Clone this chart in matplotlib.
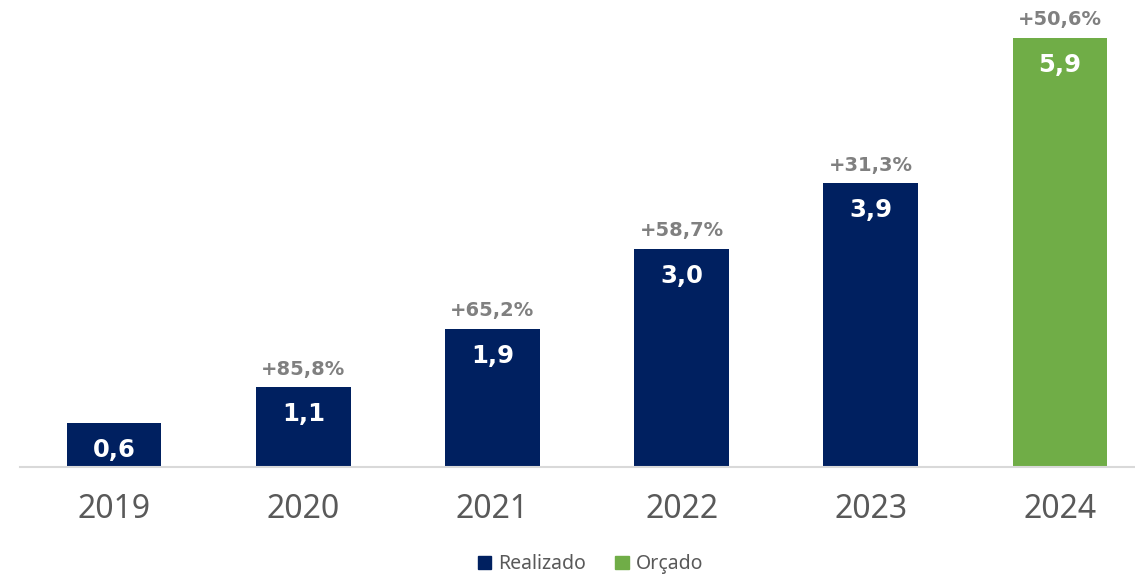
import matplotlib
matplotlib.use('Agg')
from matplotlib import pyplot as plt
from matplotlib.patches import Patch

# dados
anos = ['2019', '2020', '2021', '2022', '2023', '2024']
valores = [0.6, 1.1, 1.9, 3.0, 3.9, 5.9]
crescimento = [None, '+85,8%', '+65,2%', '+58,7%', '+31,3%', '+50,6%']
tipo = ['Realizado', 'Realizado', 'Realizado', 'Realizado', 'Realizado', 'Orçado']

cores = {'Realizado': '#002060', 'Orçado': '#70AD47'}

fig = plt.figure(figsize=(11.35, 5.77), dpi=100)
ax = fig.add_axes([0.0172, 0.1906, 1.0, 0.8094])

x = list(range(len(anos)))
bars = ax.bar(x, valores, width=0.5, color=[cores[t] for t in tipo], zorder=2)

ax.set_xlim(-0.5, 5.5)
ax.set_ylim(0, 6.42)

# rótulos dentro das barras
for xi, v in zip(x, valores):
    ax.annotate(f'{v:.1f}'.replace('.', ','), (xi, v), xytext=(0, -27),
                textcoords='offset pixels', ha='center', va='center',
                color='white', fontsize=17.5, fontweight='bold')

# variação anual acima das barras
for xi, v, c in zip(x, valores, crescimento):
    if c is None:
        continue
    ax.annotate(c, (xi, v), xytext=(0, 18), textcoords='offset pixels',
                ha='center', va='center', color='#808080',
                fontsize=14, fontweight='bold')

ax.set_xticks(x)
ax.set_xticklabels(anos, fontsize=23, color='#595959', family='Noto Sans')
ax.tick_params(axis='x', length=0, pad=19)
ax.set_yticks([])
for s in ['top', 'right', 'left']:
    ax.spines[s].set_visible(False)
ax.spines['bottom'].set_color('#D9D9D9')
ax.spines['bottom'].set_linewidth(1.5)

handles = [Patch(color=cores['Realizado'], label='Realizado'),
           Patch(color=cores['Orçado'], label='Orçado')]
fig.legend(handles=handles, loc='center', bbox_to_anchor=(0.520, 0.022),
           ncol=2, frameon=False, handlelength=0.7, handleheight=0.7,
           handletextpad=0.35, columnspacing=1.5,
           prop={'family': 'Noto Sans', 'size': 14}, labelcolor='#595959')

fig.savefig('out.png', dpi=100)
